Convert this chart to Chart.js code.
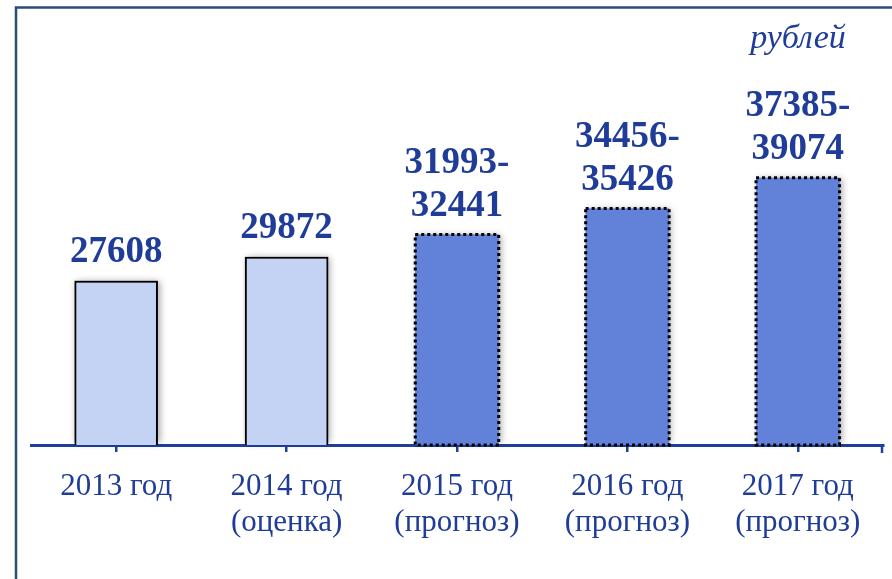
<!DOCTYPE html>
<html><head><meta charset="utf-8">
<script src="https://cdn.jsdelivr.net/npm/chart.js@4.4.1/dist/chart.umd.min.js"></script>
<style>html,body{margin:0;padding:0;background:#fff;overflow:hidden;}</style>
</head><body>
<canvas id="c" width="892" height="579"></canvas>
<script>
const categories = [["2013 год"], ["2014 год", "(оценка)"], ["2015 год", "(прогноз)"], ["2016 год", "(прогноз)"], ["2017 год", "(прогноз)"]];
const lowValues = [27608, 29872, 31993, 34456, 37385];
const highValues = [null, null, 32441, 35426, 39074];
const isForecast = [false, false, true, true, true];
const unitLabel = "рублей";

const TEXT = '#1f3c98';
const AXIS = '#1f3f9a';
const LIGHT = '#c4d3f4';
const DARK = '#6282da';

function barBottom(chart, el) { return Math.min(el.base, chart.chartArea.bottom); }

const deco = {
  id: 'deco',
  beforeDraw(chart) {
    const ctx = chart.ctx;
    ctx.save();
    ctx.fillStyle = '#fff';
    ctx.fillRect(0, 0, chart.width, chart.height);
    ctx.strokeStyle = '#2d4a7c';
    ctx.lineWidth = 2.5;
    ctx.beginPath();
    ctx.moveTo(16, chart.height + 2);
    ctx.lineTo(16, 7.5);
    ctx.lineTo(chart.width + 2, 7.5);
    ctx.stroke();
    ctx.font = 'italic 34px "Liberation Serif"';
    ctx.fillStyle = TEXT;
    ctx.textAlign = 'center';
    ctx.textBaseline = 'alphabetic';
    ctx.fillText(unitLabel, 798, 48);
    ctx.restore();
  },
  beforeDatasetsDraw(chart) {
    const ctx = chart.ctx;
    ctx.save();
    chart.getDatasetMeta(0).data.forEach(el => {
      const w = el.width;
      const b = barBottom(chart, el);
      ctx.shadowColor = 'rgba(0,0,0,0.35)';
      ctx.shadowBlur = 7;
      ctx.shadowOffsetX = 2;
      ctx.shadowOffsetY = 0;
      ctx.fillStyle = '#888';
      ctx.fillRect(el.x - w / 2, el.y, w, b - el.y - 2);
    });
    ctx.restore();
  },
  afterDatasetsDraw(chart) {
    const ctx = chart.ctx;
    ctx.save();
    chart.getDatasetMeta(0).data.forEach((el, i) => {
      const w = el.width;
      const b = barBottom(chart, el);
      if (isForecast[i]) {
        ctx.strokeStyle = '#000';
        ctx.lineWidth = 3;
        ctx.setLineDash([3, 3]);
        ctx.strokeRect(el.x - w / 2, el.y, w, b - el.y);
        ctx.setLineDash([]);
      }
      const lines = highValues[i] == null ? [String(lowValues[i])] : [lowValues[i] + '-', String(highValues[i])];
      ctx.font = 'bold 37px "Liberation Serif"';
      ctx.fillStyle = TEXT;
      ctx.textAlign = 'center';
      ctx.textBaseline = 'alphabetic';
      const n = lines.length;
      lines.forEach((t, k) => {
        ctx.fillText(t, el.x, el.y - 19 - (n - 1 - k) * 43);
      });
    });
    ctx.restore();
  },
  afterDraw(chart) {
    const ctx = chart.ctx;
    const a = chart.chartArea;
    ctx.save();
    ctx.strokeStyle = AXIS;
    ctx.lineWidth = 2.5;
    ctx.beginPath();
    ctx.moveTo(a.right - 1, a.bottom);
    ctx.lineTo(a.right - 1, a.bottom + 8);
    ctx.stroke();
    ctx.restore();
  }
};

new Chart(document.getElementById('c'), {
  type: 'bar',
  data: {
    labels: categories,
    datasets: [{
      data: lowValues,
      backgroundColor: isForecast.map(f => f ? DARK : LIGHT),
      borderColor: '#000',
      borderWidth: isForecast.map(f => f ? 0 : 2),
      borderSkipped: false,
      barPercentage: 0.49,
      categoryPercentage: 1.0
    }]
  },
  options: {
    responsive: false,
    animation: false,
    devicePixelRatio: 1,
    layout: { padding: { left: 31, right: 9, top: 45, bottom: 0 } },
    plugins: { legend: { display: false }, tooltip: { enabled: false }, title: { display: false } },
    scales: {
      x: {
        z: 1,
        offset: true,
        grid: { offset: false, drawOnChartArea: false, drawTicks: true, tickLength: 7, color: AXIS, lineWidth: 2.5 },
        border: { display: true, color: AXIS, width: 3 },
        ticks: { color: TEXT, font: { family: '"Liberation Serif"', size: 31, lineHeight: 1.16 }, padding: 17, maxRotation: 0, autoSkip: false },
        afterFit(scale) { scale.height = 134; }
      },
      y: { display: false, min: 12000, max: 50000 }
    }
  },
  plugins: [deco]
});
</script>
</body></html>
